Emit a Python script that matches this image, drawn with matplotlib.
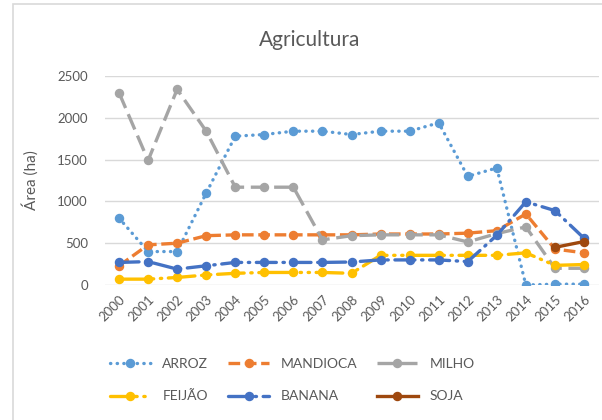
import numpy as np
import matplotlib
matplotlib.use('Agg')
from matplotlib import pyplot as plt
from matplotlib.patches import Rectangle

# dados
anos = [str(a) for a in range(2000, 2017)]
arroz = [800, 400, 400, 1100, 1780, 1800, 1840, 1840, 1800, 1840, 1840, 1940, 1300, 1400, 0, 10, 10]
mandioca = [230, 480, 500, 590, 600, 600, 600, 600, 600, 610, 610, 610, 620, 650, 850, 430, 385]
milho = [2300, 1490, 2340, 1840, 1170, 1170, 1170, 540, 590, 600, 600, 600, 515, 615, 695, 200, 200]
feijao = [70, 70, 90, 120, 140, 150, 150, 150, 140, 355, 355, 355, 355, 355, 385, 235, 245]
banana = [270, 280, 190, 230, 270, 270, 270, 270, 275, 300, 300, 300, 280, 595, 995, 890, 560]
soja_anos = [15, 16]
soja = [450, 520]

cinza = '#595959'
plt.rcParams['font.family'] = ['Lato', 'DejaVu Sans']

fig = plt.figure(figsize=(6.02, 4.2), dpi=100)
fig.patches.append(Rectangle((13/602, -0.01), 1.0, (420-4)/420 + 0.01, transform=fig.transFigure,
                             fill=False, edgecolor='#d9d9d9', linewidth=1.2))
ax = fig.add_axes([104.5/602, 135/420, 494/602, 209/420])

x = np.arange(len(anos))
lw = 2.4
ms = 5.8
l1, = ax.plot(x, arroz, color='#5B9BD5', lw=lw, marker='o', ms=ms, label='ARROZ',
              dashes=(0.1, 1.9), dash_capstyle='round')
l2, = ax.plot(x, mandioca, color='#ED7D31', lw=lw, marker='o', ms=ms, label='MANDIOCA',
              dashes=(3.5, 1.4))
l3, = ax.plot(x, milho, color='#A5A5A5', lw=lw, marker='o', ms=ms, label='MILHO',
              dashes=(5, 2.0))
l4, = ax.plot(x, feijao, color='#FFC000', lw=lw, marker='o', ms=ms, label='FEIJÃO',
              dashes=(8, 2, 0.4, 2, 0.4, 2), dash_capstyle='round')
l5, = ax.plot(x, banana, color='#4472C4', lw=lw, marker='o', ms=ms, label='BANANA',
              dashes=(6, 2, 0.4, 2), dash_capstyle='round')
l6, = ax.plot(soja_anos, soja, color='#9E480E', lw=lw, marker='o', ms=ms, label='SOJA')

ax.set_xlim(-0.5, len(anos) - 0.5)
ax.set_ylim(0, 2500)
ax.set_yticks(np.arange(0, 2501, 500))
ax.set_xticks(x)
ax.set_xticklabels(anos, rotation=45, ha='right', rotation_mode='anchor')
ax.tick_params(axis='both', length=0, labelcolor=cinza, labelsize=9.5)
ax.tick_params(axis='y', pad=12)
ax.tick_params(axis='x', pad=6)
for s in ax.spines.values():
    s.set_visible(False)
ax.grid(axis='y', color='#d9d9d9', lw=1)
ax.set_axisbelow(True)

fig.text(310/602, 1 - 40/420, 'Agricultura', ha='center', va='center', fontsize=15, color=cinza)
fig.text(30/602, 1 - 180/420, 'Área (ha)', ha='center', va='center', rotation=90,
         fontsize=11, color=cinza)

handles = [l1, l4, l2, l5, l3, l6]
fig.legend(handles, [h.get_label() for h in handles], ncol=3, loc='center',
           bbox_to_anchor=(292/602, 1 - 380/420), frameon=False, fontsize=10,
           labelcolor=cinza, handlelength=3.0, columnspacing=1.4, labelspacing=1.5)

fig.savefig('out.png', dpi=100)
